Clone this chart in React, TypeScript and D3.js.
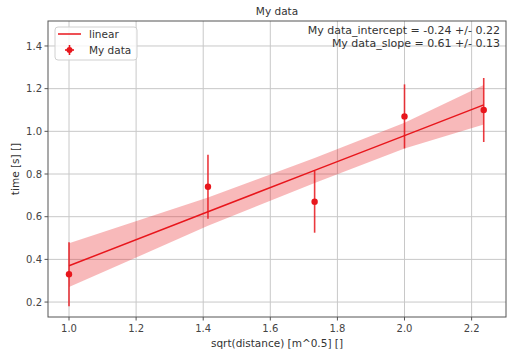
import React from "react";
import * as d3 from "d3";

const xs = [1.0, 1.4142, 1.7321, 2.0, 2.2361];
const ys = [0.33, 0.74, 0.67, 1.07, 1.1];
const yErr = [0.15, 0.15, 0.145, 0.15, 0.15];
const fitY = [0.37, 0.623, 0.817, 0.98, 1.124];
const bandLow = [0.27, 0.557, 0.758, 0.92, 1.032];
const bandHigh = [0.475, 0.69, 0.875, 1.04, 1.217];
const xTicks = [1.0, 1.2, 1.4, 1.6, 1.8, 2.0, 2.2];
const yTicks = [0.2, 0.4, 0.6, 0.8, 1.0, 1.2, 1.4];
const annotations = [
  "My data_intercept = -0.24 +/- 0.22",
  "My data_slope = 0.61 +/- 0.13",
];

const W = 517;
const H = 356;
const L = 48, R = 506, T = 21, B = 317;
const RED = "#e8161c";
const FONT = "DejaVu Sans, sans-serif";

export default function App() {
  const x = d3.scaleLinear().domain([0.9374, 2.3025]).range([L, R]);
  const y = d3.scaleLinear().domain([0.13, 1.517]).range([B, T]);
  const idx = xs.map((_, i) => i);
  const area = d3
    .area<number>()
    .x((i) => x(xs[i]))
    .y0((i) => y(bandLow[i]))
    .y1((i) => y(bandHigh[i]));
  const line = d3
    .line<number>()
    .x((i) => x(xs[i]))
    .y((i) => y(fitY[i]));

  return (
    <svg
      width={W}
      height={H}
      style={{ position: "absolute", left: 0, top: 0, background: "#fff" }}
      fontFamily={FONT}
    >
      <rect x={0} y={0} width={W} height={H} fill="#fff" />
      {/* grid */}
      {xTicks.map((t) => (
        <line key={"gx" + t} x1={x(t)} x2={x(t)} y1={T} y2={B} stroke="#c8c8c8" strokeWidth={1} />
      ))}
      {yTicks.map((t) => (
        <line key={"gy" + t} x1={L} x2={R} y1={y(t)} y2={y(t)} stroke="#c8c8c8" strokeWidth={1} />
      ))}
      {/* band */}
      <path d={area(idx) || ""} fill={RED} fillOpacity={0.3} stroke="none" />
      {/* fit line */}
      <path d={line(idx) || ""} fill="none" stroke={RED} strokeWidth={1.5} />
      {/* error bars */}
      {idx.map((i) => (
        <g key={"p" + i}>
          <line
            x1={x(xs[i])}
            x2={x(xs[i])}
            y1={y(ys[i] - yErr[i])}
            y2={y(ys[i] + yErr[i])}
            stroke={RED}
            strokeWidth={1.6}
            strokeOpacity={0.85}
          />
          <circle cx={x(xs[i])} cy={y(ys[i])} r={3.2} fill={RED} />
        </g>
      ))}
      {/* spines */}
      <rect x={L} y={T} width={R - L} height={B - T} fill="none" stroke="#555" strokeWidth={1} />
      {/* ticks */}
      {xTicks.map((t) => (
        <g key={"tx" + t}>
          <line x1={x(t)} x2={x(t)} y1={B} y2={B + 3.5} stroke="#555" />
          <text x={x(t)} y={B + 15} textAnchor="middle" fontSize={10} fill="#444">
            {t.toFixed(1)}
          </text>
        </g>
      ))}
      {yTicks.map((t) => (
        <g key={"ty" + t}>
          <line x1={L - 3.5} x2={L} y1={y(t)} y2={y(t)} stroke="#555" />
          <text x={L - 6} y={y(t) + 3.6} textAnchor="end" fontSize={10} fill="#444">
            {t.toFixed(1)}
          </text>
        </g>
      ))}
      {/* labels */}
      <text x={(L + R) / 2} y={15} textAnchor="middle" fontSize={10.5} fill="#333">
        My data
      </text>
      <text x={(L + R) / 2} y={347} textAnchor="middle" fontSize={10.5} fill="#333">
        sqrt(distance) [m^0.5] []
      </text>
      <text
        transform={`translate(19,${(T + B) / 2}) rotate(-90)`}
        textAnchor="middle"
        fontSize={10.5}
        fill="#333"
      >
        time [s] []
      </text>
      {/* annotations */}
      {annotations.map((s, i) => (
        <text key={"a" + i} x={500} y={34 + i * 13} textAnchor="end" fontSize={11} fill="#333">
          {s}
        </text>
      ))}
      {/* legend */}
      <rect x={55} y={27} width={82} height={33} rx={3} fill="#fff" fillOpacity={0.8} stroke="#d0d0d0" />
      <line x1={58} x2={81} y1={34} y2={34} stroke={RED} strokeWidth={1.5} />
      <text x={89} y={38} fontSize={10.5} fill="#333">linear</text>
      <line x1={69.5} x2={69.5} y1={45} y2={55} stroke={RED} strokeWidth={1.6} />
      <line x1={65} x2={74} y1={50} y2={50} stroke={RED} strokeWidth={1.6} />
      <circle cx={69.5} cy={50} r={3} fill={RED} />
      <text x={89} y={54} fontSize={10.5} fill="#333">My data</text>
    </svg>
  );
}
